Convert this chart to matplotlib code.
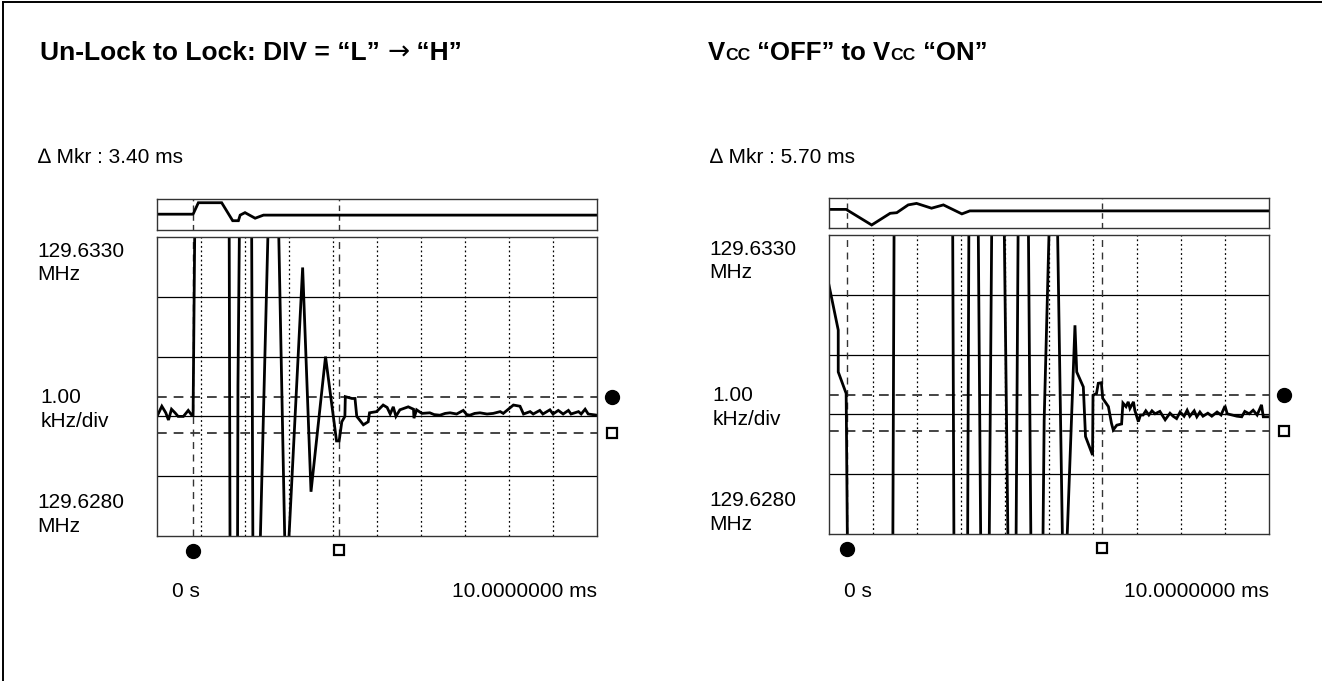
import matplotlib
matplotlib.use("Agg")
import matplotlib.pyplot as plt
from matplotlib.lines import Line2D

plt.rcParams['font.family'] = ['Liberation Sans', 'DejaVu Sans']
plt.rcParams['lines.scale_dashes'] = False

W, H = 1322, 681

# ---------------- data ----------------
# time in ms (0..10), value in kHz above 129.6280 MHz (0..5 = 5 div of 1 kHz)
left_t = [0.00, 0.11, 0.20, 0.26, 0.33, 0.41, 0.48, 0.60, 0.71, 0.79, 0.82, 0.86,
          1.64, 1.66, 1.83, 1.84, 1.875, 2.15, 2.18, 2.34, 2.53, 2.76, 2.91, 2.98,
          3.31, 3.50, 3.83, 4.08, 4.14, 4.20, 4.27, 4.28, 4.43, 4.50, 4.54, 4.69,
          4.80, 4.83, 4.99, 5.14, 5.23, 5.30, 5.37, 5.43, 5.52, 5.71, 5.83, 5.84,
          5.90, 6.02, 6.20, 6.30, 6.43, 6.55, 6.66, 6.81, 6.96, 7.04, 7.11, 7.22,
          7.34, 7.50, 7.64, 7.80, 7.87, 8.10, 8.25, 8.33, 8.48, 8.55, 8.70, 8.77,
          8.93, 9.00, 9.12, 9.23, 9.35, 9.41, 9.58, 9.64, 9.73, 9.80, 10.00]
left_v = [2.00, 2.17, 2.06, 1.94, 2.12, 2.06, 2.00, 2.00, 2.10, 2.02, 2.02, 5.30,
          5.30, -0.30, -0.30, 2.52, 5.30, 5.30, -0.30, -0.30, 5.30, 5.30, -0.30, -0.30,
          4.49, 0.74, 3.00, 1.59, 1.59, 1.91, 2.00, 2.33, 2.30, 2.30, 2.00, 1.86,
          1.91, 2.06, 2.08, 2.19, 2.15, 2.04, 2.16, 2.00, 2.11, 2.16, 2.12, 1.97,
          2.11, 2.05, 2.06, 2.03, 2.02, 2.05, 2.06, 2.04, 2.10, 2.03, 2.02, 2.05,
          2.06, 2.04, 2.05, 2.08, 2.05, 2.19, 2.17, 2.04, 2.08, 2.04, 2.10, 2.04,
          2.11, 2.04, 2.10, 2.04, 2.10, 2.04, 2.08, 2.04, 2.12, 2.04, 2.02]

left_strip_t = [0.00, 0.82, 0.94, 1.47, 1.72, 1.85, 1.89, 2.00, 2.23, 2.42, 10.00]
left_strip_v = [0.51, 0.51, 0.88, 0.88, 0.30, 0.30, 0.48, 0.56, 0.38, 0.48, 0.48]

right_t = [0.00, 0.21, 0.21, 0.39, 0.42, 1.45, 1.48, 2.81, 2.84, 3.15, 3.18,
           3.39, 3.45, 3.64, 3.70, 3.98, 4.07, 4.25, 4.30, 4.53, 4.59, 4.86,
           4.89, 5.01, 5.19, 5.31, 5.40, 5.59, 5.63, 5.78, 5.83, 5.99, 6.00,
           6.08, 6.12, 6.19, 6.22, 6.35, 6.42, 6.46, 6.54, 6.65, 6.68, 6.75,
           6.80, 6.84, 6.92, 6.95, 7.03, 7.08, 7.14, 7.20, 7.27, 7.34, 7.41,
           7.52, 7.64, 7.75, 7.82, 7.90, 7.98, 8.07, 8.14, 8.20, 8.30, 8.36,
           8.43, 8.50, 8.61, 8.70, 8.82, 8.91, 9.00, 9.05, 9.16, 9.27, 9.38,
           9.45, 9.55, 9.64, 9.73, 9.83, 9.87, 10.00]
right_v = [4.16, 3.41, 2.71, 2.35, -0.30, -0.30, 5.30, 5.30, -0.30, -0.30, 5.30,
           5.30, -0.30, -0.30, 5.30, 5.30, -0.30, -0.30, 5.30, 5.30, -0.30, -0.30,
           1.90, 5.30, 5.30, -0.30, -0.30, 3.49, 2.71, 2.46, 1.63, 1.32, 2.32,
           2.35, 2.52, 2.53, 2.27, 2.13, 1.85, 1.74, 1.82, 1.84, 2.19, 2.13,
           2.21, 2.10, 2.21, 2.07, 1.88, 1.99, 1.99, 2.06, 1.99, 2.06, 2.01,
           2.05, 1.91, 2.02, 1.97, 1.93, 2.04, 1.97, 2.07, 1.97, 2.06, 1.96,
           2.04, 1.97, 2.02, 1.97, 2.04, 1.99, 2.14, 2.01, 1.99, 1.97, 1.96,
           2.05, 2.01, 2.07, 1.99, 2.16, 1.96, 1.96]

right_strip_t = [0.00, 0.39, 0.97, 1.39, 1.54, 1.80, 1.99, 2.33, 2.60, 3.02, 3.20, 10.00]
right_strip_v = [0.62, 0.62, 0.10, 0.49, 0.51, 0.77, 0.82, 0.66, 0.77, 0.47, 0.57, 0.57]

left_markers = [0.82, 4.14]
right_markers = [0.41, 6.20]
limit_lines = [2.33, 1.73]          # upper / lower settle limits (kHz)
grid_levels = [1, 2, 3, 4]
time_divs = [1, 2, 3, 4, 5, 6, 7, 8, 9]

left_mkr = "\u2206 Mkr : 3.40 ms"
right_mkr = "\u2206 Mkr : 5.70 ms"
top_label = ["129.6330", "MHz"]
mid_label = ["1.00", "kHz/div"]
bot_label = ["129.6280", "MHz"]
start_label = "0 s"
stop_label = "10.0000000 ms"

# ---------------- figure ----------------
fig = plt.figure(figsize=(W / 100, H / 100), dpi=100)
fig.patch.set_facecolor('white')

# outer frame (top and left visible)
fig.add_artist(Line2D([2.5 / W, 2.5 / W], [0, 1 - 1.5 / H], color='black', lw=1.4))
fig.add_artist(Line2D([2.5 / W, 1], [1 - 1.5 / H, 1 - 1.5 / H], color='black', lw=1.4))


def add_ax(x0, y0, x1, y1):
    return fig.add_axes([x0 / W, 1 - y1 / H, (x1 - x0) / W, (y1 - y0) / H])


def ftext(x, y, s, **kw):
    return fig.text(x / W, 1 - y / H, s, **kw)


FS = 15
TRACE = dict(color='black', lw=2.0, solid_joinstyle='miter')


def panel(px0, px1, strip_y, main_y, t, v, st, sv, mk, labx):
    # top strip
    s = add_ax(px0, strip_y[0], px1, strip_y[1])
    s.set_xlim(0, 10)
    s.set_ylim(0, 1)
    s.set_xticks([]); s.set_yticks([])
    for sp in s.spines.values():
        sp.set_color('#333333'); sp.set_linewidth(1.0)
    for m in mk:
        s.axvline(m, color='#333333', lw=1.0, ls=(0, (4, 3)))
    s.plot(st, sv, **TRACE)

    a = add_ax(px0, main_y[0], px1, main_y[1])
    a.set_xlim(0, 10)
    a.set_ylim(0, 5)
    a.set_xticks([]); a.set_yticks([])
    for sp in a.spines.values():
        sp.set_color('#333333'); sp.set_linewidth(1.0)
    for g in grid_levels:
        a.axhline(g, color='black', lw=0.9)
    for d in time_divs:
        a.axvline(d, color='black', lw=0.9, ls=(0, (1.3, 2.0)))
    for lv in limit_lines:
        a.axhline(lv, color='#444444', lw=1.4, ls=(0, (7, 5)))
    for m in mk:
        a.axvline(m, color='#333333', lw=1.0, ls=(0, (5, 4)))
    a.plot(t, v, clip_on=True, **TRACE)

    # marker symbols
    a.plot([mk[0]], [-0.25], 'o', color='black', ms=10, clip_on=False)
    a.plot([mk[1]], [-0.23], 's', mfc='white', mec='black', mew=1.6, ms=7.5, clip_on=False)
    a.plot([10.35], [limit_lines[0]], 'o', color='black', ms=10, clip_on=False)
    a.plot([10.33], [limit_lines[1]], 's', mfc='white', mec='black', mew=1.6, ms=7.5, clip_on=False)

    # y labels (one text per line)
    ftext(labx, main_y[0] + 20, top_label[0], fontsize=FS, va='baseline')
    ftext(labx, main_y[0] + 43, top_label[1], fontsize=FS, va='baseline')
    ftext(labx + 3.5, main_y[0] + 166, mid_label[0], fontsize=FS, va='baseline')
    ftext(labx + 3.5, main_y[0] + 190, mid_label[1], fontsize=FS, va='baseline')
    ftext(labx, main_y[0] + 271, bot_label[0], fontsize=FS, va='baseline')
    ftext(labx, main_y[0] + 295, bot_label[1], fontsize=FS, va='baseline')
    # x labels
    ftext(px0 + 15, 597, start_label, fontsize=FS, va='baseline')
    ftext(px1, 597, stop_label, fontsize=FS, va='baseline', ha='right')
    return a


panel(157, 597, (199, 230), (237, 536), left_t, left_v, left_strip_t, left_strip_v,
      left_markers, 37)
panel(829, 1269, (198, 228), (235, 534), right_t, right_v, right_strip_t, right_strip_v,
      right_markers, 709)

renderer = fig.canvas.get_renderer()


def run_text(x, y, pieces):
    for txt, size, fam, wt in pieces:
        tt = ftext(x, y, txt, fontsize=size, fontweight=wt, va='baseline', family=fam)
        bb = tt.get_window_extent(renderer)
        x = bb.x1


TS = 19
run_text(40, 60, [("Un-Lock to Lock: DIV = \u201cL\u201d ", TS, 'Liberation Sans', 'bold'),
                  ("\u2192", TS, 'DejaVu Sans', 'normal'),
                  (" \u201cH\u201d", TS, 'Liberation Sans', 'bold')])
TS2 = 18.5
run_text(708, 60, [("V", TS2, 'Liberation Sans', 'bold'),
                   ("CC", TS2 * 0.68, 'Liberation Sans', 'bold'),
                   (" \u201cOFF\u201d to V", TS2, 'Liberation Sans', 'bold'),
                   ("CC", TS2 * 0.68, 'Liberation Sans', 'bold'),
                   (" \u201cON\u201d", TS2, 'Liberation Sans', 'bold')])

ftext(38, 163, left_mkr, fontsize=FS, va='baseline')
ftext(710, 163, right_mkr, fontsize=FS, va='baseline')

fig.savefig("out.png", dpi=100, facecolor='white')
